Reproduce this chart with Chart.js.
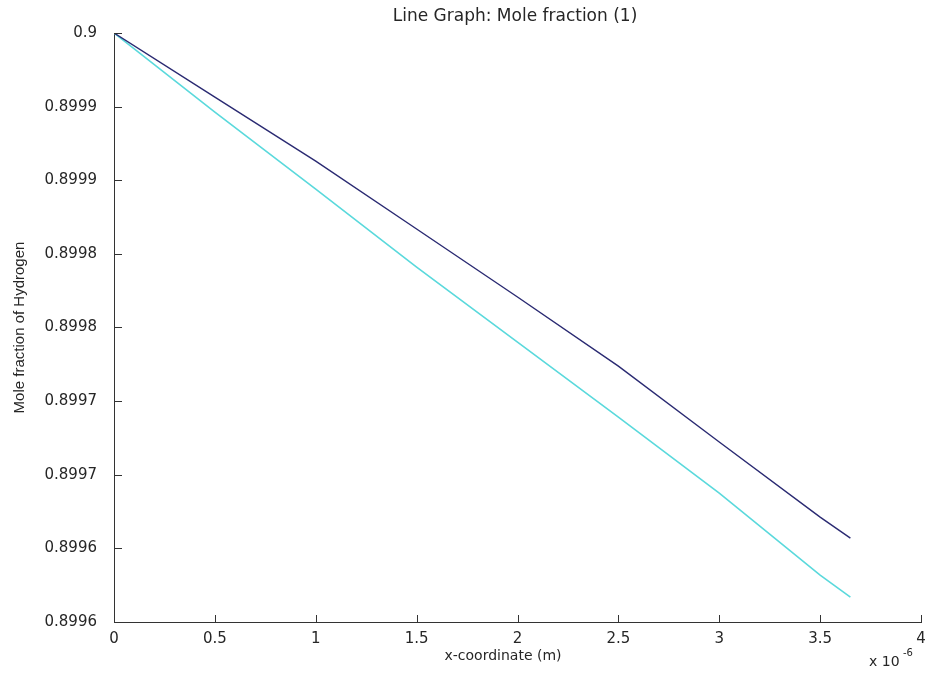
<!DOCTYPE html>
<html>
<head>
<meta charset="utf-8">
<title>Line Graph: Mole fraction (1)</title>
<script src="https://cdn.jsdelivr.net/npm/chart.js@4.4.1/dist/chart.umd.min.js"></script>
<style>
  html, body { margin: 0; padding: 0; background: #fff; }
  #chart { display: block; }
</style>
</head>
<body>
<canvas id="chart" width="929" height="673"></canvas>
<script>
// x values are in units of 1e-6 m (axis shows "x 10^-6")
const xCoord = [0, 0.5, 1, 1.5, 2, 2.5, 3, 3.5, 3.65];
const hydrogenA = [0.9, 0.8999565, 0.8999130, 0.8998669, 0.8998207, 0.8997738, 0.8997222, 0.8996712, 0.8996570];
const hydrogenB = [0.9, 0.8999463, 0.8998940, 0.8998410, 0.8997901, 0.8997392, 0.8996875, 0.8996318, 0.8996169];

const xTickValues = [0, 0.5, 1, 1.5, 2, 2.5, 3, 3.5, 4];
const xTickLabels = ['0', '0.5', '1', '1.5', '2', '2.5', '3', '3.5', '4'];
const yTickValues = [0.8996, 0.89965, 0.8997, 0.89975, 0.8998, 0.89985, 0.8999, 0.89995, 0.9];
const yTickLabels = ['0.8996', '0.8996', '0.8997', '0.8997', '0.8998', '0.8998', '0.8999', '0.8999', '0.9'];

const axisColor = '#333333';
const textColor = '#262626';

function toPoints(ys) {
  return xCoord.map((x, i) => ({ x: x, y: ys[i] }));
}

// MATLAB style inward ticks plus the free text (title, labels, exponent)
const matlabDecor = {
  id: 'matlabDecor',
  afterDraw(chart) {
    const ctx = chart.ctx;
    const area = chart.chartArea;
    const xs = chart.scales.x;
    const ys = chart.scales.y;
    ctx.save();
    ctx.strokeStyle = axisColor;
    ctx.lineWidth = 1;
    ctx.beginPath();
    xTickValues.forEach(v => {
      const px = Math.round(xs.getPixelForValue(v)) + 0.5;
      ctx.moveTo(px, area.bottom);
      ctx.lineTo(px, area.bottom - 7);
    });
    yTickValues.forEach(v => {
      const py = Math.round(ys.getPixelForValue(v)) + 0.5;
      ctx.moveTo(area.left, py);
      ctx.lineTo(area.left + 8, py);
    });
    ctx.stroke();

    ctx.fillStyle = textColor;
    ctx.font = '17px "DejaVu Sans", sans-serif';
    ctx.textAlign = 'center';
    ctx.textBaseline = 'middle';
    ctx.fillText('Line Graph: Mole fraction (1)', 515, 17);

    ctx.font = '14px "DejaVu Sans", sans-serif';
    ctx.fillText('x-coordinate (m)', 503, 656);

    ctx.save();
    ctx.translate(20, (area.top + area.bottom) / 2);
    ctx.rotate(-Math.PI / 2);
    ctx.font = '15px "Liberation Sans Narrow", "Liberation Sans", sans-serif';
    ctx.fillText('Mole fraction of Hydrogen', 0, 0);
    ctx.restore();

    ctx.textAlign = 'left';
    ctx.textBaseline = 'alphabetic';
    ctx.font = '14px "DejaVu Sans", sans-serif';
    ctx.fillText('x 10', 869, 666);
    ctx.font = '10px "DejaVu Sans", sans-serif';
    ctx.fillText('-6', 903, 656);
    ctx.restore();
  }
};

new Chart(document.getElementById('chart'), {
  type: 'line',
  data: {
    datasets: [{
      label: 'Series 1',
      data: toPoints(hydrogenA),
      borderColor: '#2a2a72',
      borderWidth: 1.4,
      pointRadius: 0,
      tension: 0,
      fill: false
    }, {
      label: 'Series 2',
      data: toPoints(hydrogenB),
      borderColor: '#5ad9dc',
      borderWidth: 1.6,
      pointRadius: 0,
      tension: 0,
      fill: false
    }]
  },
  options: {
    responsive: false,
    animation: false,
    devicePixelRatio: 1,
    layout: { padding: { left: 0, right: 8, top: 33, bottom: 0 } },
    plugins: {
      legend: { display: false },
      title: { display: false },
      tooltip: { enabled: false }
    },
    scales: {
      x: {
        type: 'linear',
        min: 0,
        max: 4,
        afterBuildTicks: axis => { axis.ticks = xTickValues.map(v => ({ value: v })); },
        afterFit: axis => { axis.height = 51; },
        grid: { display: false },
        border: { display: true, color: axisColor, width: 1 },
        ticks: {
          color: textColor,
          padding: 0,
          maxRotation: 0,
          autoSkip: false,
          font: { family: '"DejaVu Sans", sans-serif', size: 15 },
          callback: (v, i) => xTickLabels[i]
        }
      },
      y: {
        type: 'linear',
        min: 0.8996,
        max: 0.9,
        afterBuildTicks: axis => { axis.ticks = yTickValues.map(v => ({ value: v })); },
        afterFit: axis => { axis.width = 114; },
        grid: { display: false },
        border: { display: true, color: axisColor, width: 1 },
        ticks: {
          color: textColor,
          padding: 9,
          autoSkip: false,
          font: { family: '"DejaVu Sans", sans-serif', size: 15 },
          callback: (v, i) => yTickLabels[i]
        }
      }
    }
  },
  plugins: [matlabDecor]
});
</script>
</body>
</html>
